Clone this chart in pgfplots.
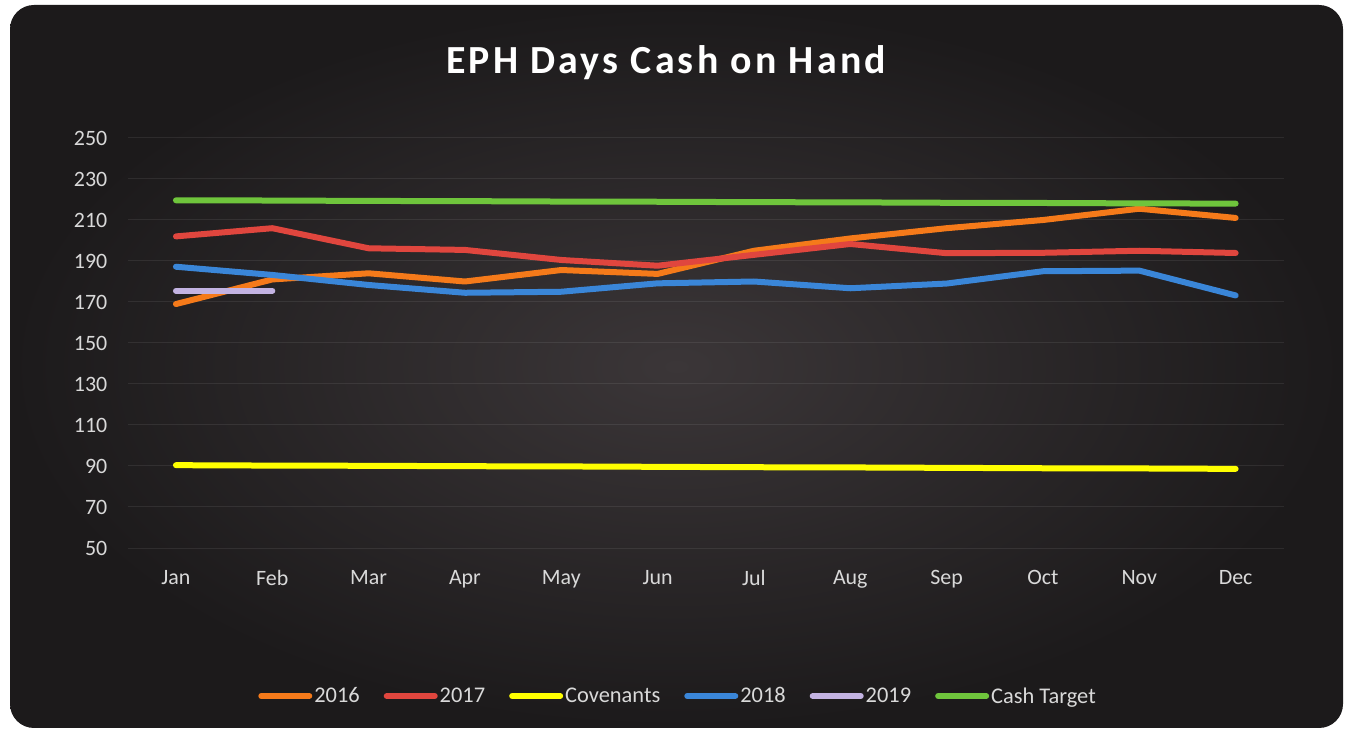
\documentclass[border=0pt]{standalone}
\usepackage{fontspec}
\setmainfont{Carlito}
\newfontfamily\titlefont[LetterSpace=8]{Carlito}
\usepackage{pgfplots}
\pgfplotsset{compat=1.18}

\definecolor{bgin}{HTML}{3B3638}
\definecolor{bgout}{HTML}{1C1A1B}
\definecolor{labelgray}{HTML}{D9D9D9}
\definecolor{c2016}{HTML}{F57A1A}
\definecolor{c2017}{HTML}{E0463E}
\definecolor{ccov}{HTML}{FFFF00}
\definecolor{c2018}{HTML}{3A86D8}
\definecolor{c2019}{HTML}{C3B3E2}
\definecolor{ctarget}{HTML}{6FC53C}

\begin{document}
\begin{tikzpicture}
% page and rounded dark panel
\fill[white] (0,0) rectangle (1349bp,732bp);
\shade[inner color=bgin, outer color=bgout, rounded corners=24bp] (10bp,4bp) rectangle (1343bp,727bp);
\node[text=white, font=\titlefont\bfseries\fontsize{40}{46}\selectfont] at (666bp,669bp) {EPH Days Cash on Hand};

\begin{axis}[
    at={(127.8bp,184bp)}, anchor=south west,
    scale only axis,
    width=1156bp, height=410bp,
    xmin=-0.5, xmax=11.5,
    ymin=50, ymax=250,
    xtick={0,...,11},
    xticklabels={Jan,Feb,Mar,Apr,May,Jun,Jul,Aug,Sep,Oct,Nov,Dec},
    ytick={50,70,...,250},
    axis line style={draw=none},
    tick style={draw=none},
    ymajorgrids=true,
    grid style={white, opacity=0.08, line width=1bp},
    /pgf/number format/assume math mode=true,
    ticklabel style={text=labelgray, font=\fontsize{22}{26}\selectfont},
    yticklabel style={xshift=-17bp},
    xticklabel style={yshift=-19bp},
    clip=false,
    every axis plot/.append style={line width=6bp, line cap=round, line join=round},
    legend image code/.code={\draw[#1, line width=6bp, line cap=round] (0bp,0bp) -- (48bp,0bp);},
    legend style={
        at={(0.476,-0.361)}, anchor=center,
        draw=none, fill=none,
        text=labelgray, font=\fontsize{22.5}{26}\selectfont,
        legend columns=-1,
        nodes={inner sep=2bp},
        /tikz/every even column/.append style={column sep=22bp},
    },
]
\addplot[c2016] coordinates {
    (0,169) (1,181) (2,184) (3,180) (4,185.6) (5,183.7)
    (6,195) (7,201) (8,206) (9,210) (10,215.5) (11,211)
};
\addplot[c2017] coordinates {
    (0,202) (1,206) (2,196.2) (3,195.4) (4,190.5) (5,187.7)
    (6,193) (7,198.3) (8,193.8) (9,194) (10,195) (11,193.9)
};
\addplot[ccov] coordinates {
    (0,90.4) (1,90.2) (2,90.1) (3,89.9) (4,89.8) (5,89.6)
    (6,89.4) (7,89.3) (8,89.1) (9,88.9) (10,88.8) (11,88.6)
};
\addplot[c2018] coordinates {
    (0,187.2) (1,183.2) (2,178.3) (3,174.5) (4,175) (5,179.1)
    (6,180) (7,176.7) (8,179) (9,185) (10,185.3) (11,173.2)
};
\addplot[c2019] coordinates {
    (0,175.5) (1,175.5)
};
\addplot[ctarget] coordinates {
    (0,219.6) (1,219.5) (2,219.3) (3,219.2) (4,219.0) (5,218.9)
    (6,218.7) (7,218.6) (8,218.4) (9,218.3) (10,218.1) (11,218.0)
};
\legend{2016,2017,Covenants,2018,2019,Cash Target}
\end{axis}
\end{tikzpicture}
\end{document}
